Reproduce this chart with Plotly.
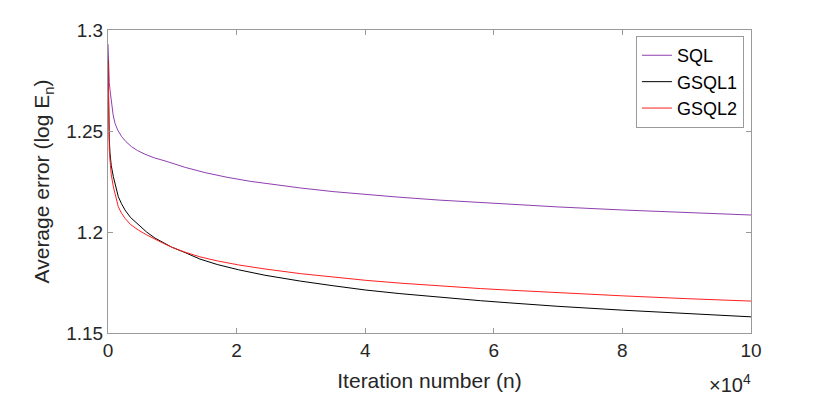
import plotly.graph_objects as go

# iteration number (in units of 1e4, as on the axis) and average error (log E_n)
n_sql = [0, 0.005, 0.01, 0.02, 0.031, 0.057, 0.08, 0.109, 0.15, 0.213, 0.28, 0.368, 0.46, 0.575, 0.72, 0.886,
         1.2, 1.51, 1.85, 2.21, 2.6, 2.99, 3.5, 4, 4.54, 5.15, 5.79, 6.25, 7, 8, 9, 10]
e_sql = [1.293, 1.285, 1.280, 1.274, 1.2703, 1.262, 1.258, 1.2538, 1.2505, 1.2472, 1.2447, 1.2422, 1.2403,
         1.2385, 1.2367, 1.2352, 1.2320, 1.2294, 1.2271, 1.2251, 1.2233, 1.2218, 1.2200, 1.2186, 1.2172,
         1.2158, 1.2145, 1.2136, 1.2124, 1.2109, 1.2096, 1.2084]

n_g1 = [0, 0.005, 0.01, 0.02, 0.031, 0.05, 0.083, 0.12, 0.16, 0.21, 0.264, 0.35, 0.47, 0.6, 0.73, 0.86, 0.99,
        1.2, 1.43, 1.7, 2.03, 2.44, 2.99, 3.5, 4, 4.54, 5.15, 5.79, 6.25, 7, 8, 9, 10]
e_g1 = [1.285, 1.266, 1.256, 1.246, 1.239, 1.233, 1.2274, 1.2220, 1.2175, 1.2140, 1.2109, 1.2072, 1.2035,
        1.2000, 1.1970, 1.1946, 1.1925, 1.1898, 1.1866, 1.1839, 1.1813, 1.1786, 1.1757, 1.1734, 1.1713,
        1.1695, 1.1677, 1.1660, 1.1649, 1.1632, 1.1613, 1.1596, 1.1580]

n_g2 = [0, 0.005, 0.01, 0.02, 0.031, 0.05, 0.083, 0.12, 0.16, 0.21, 0.264, 0.35, 0.47, 0.6, 0.73, 0.86, 0.99,
        1.2, 1.43, 1.7, 2.03, 2.44, 2.99, 3.5, 4, 4.54, 5.15, 5.79, 6.25, 7, 8, 9, 10]
e_g2 = [1.285, 1.260, 1.250, 1.241, 1.2356, 1.2285, 1.2224, 1.2170, 1.2125, 1.2093, 1.2068, 1.2037, 1.2010,
        1.1986, 1.1964, 1.1944, 1.1925, 1.1900, 1.1877, 1.1857, 1.1837, 1.1817, 1.1794, 1.1776, 1.1761,
        1.1747, 1.1733, 1.1720, 1.1712, 1.1699, 1.1684, 1.1670, 1.1658]

x_ticks = [0, 2, 4, 6, 8, 10]
y_ticks = [1.15, 1.2, 1.25, 1.3]
y_ticktext = ["1.15", "1.2", "1.25", "1.3"]

scale = 1e4
font = "Liberation Sans, Arial, sans-serif"
txt = "#262626"
axcol = "#9a9a9a"

fig = go.Figure()
fig.add_trace(go.Scatter(x=[v * scale for v in n_sql], y=e_sql, mode="lines", name="SQL",
                         line=dict(color="#8E3FB0", width=1)))
fig.add_trace(go.Scatter(x=[v * scale for v in n_g1], y=e_g1, mode="lines", name="GSQL1",
                         line=dict(color="#000000", width=1)))
fig.add_trace(go.Scatter(x=[v * scale for v in n_g2], y=e_g2, mode="lines", name="GSQL2",
                         line=dict(color="#FF2020", width=1)))

axis_common = dict(showgrid=False, zeroline=False, showline=True, linecolor=axcol, linewidth=1,
                   mirror="ticks", ticks="inside", ticklen=5, tickcolor=axcol, automargin=False,
                   tickfont=dict(family=font, size=19, color=txt))

fig.update_xaxes(range=[0, 10 * scale], tickvals=[t * scale for t in x_ticks],
                 ticktext=[str(t) for t in x_ticks],
                 title=dict(text="Iteration number (n)", font=dict(family=font, size=21, color=txt), standoff=13),
                 **axis_common)
fig.update_yaxes(range=[1.15, 1.3], tickvals=y_ticks, ticktext=y_ticktext,
                 title=dict(text="Average error (log E<sub>n</sub>)", font=dict(family=font, size=21, color=txt), standoff=10),
                 **axis_common)

fig.add_annotation(text="×10<sup>4</sup>", x=1.003, y=-0.12, xref="paper", yref="paper",
                   xanchor="right", yanchor="top", showarrow=False,
                   font=dict(family=font, size=20, color=txt))

fig.update_layout(
    width=822, height=388,
    margin=dict(l=100, r=79, t=22, b=63),
    paper_bgcolor="white", plot_bgcolor="white",
    font=dict(family=font, size=19, color=txt),
    showlegend=True,
    legend=dict(x=0.989, y=0.98, xanchor="right", yanchor="top",
                bordercolor=axcol, borderwidth=1, bgcolor="white",
                font=dict(family=font, size=18, color="#000000"),
                tracegroupgap=0, itemwidth=30),
)

fig.write_html("out.html")
